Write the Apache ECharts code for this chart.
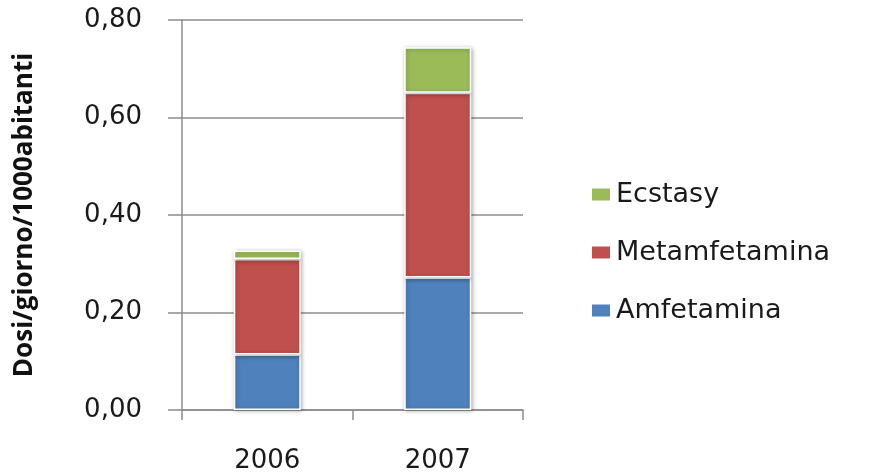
<!DOCTYPE html>
<html>
<head>
<meta charset="utf-8">
<script src="https://cdn.jsdelivr.net/npm/echarts@6/dist/echarts.min.js"></script>
<style>
  html, body { margin: 0; padding: 0; background: #fff; }
  #chart { width: 870px; height: 474px; }
</style>
</head>
<body>
<div id="chart"></div>
<script>
/* anni */
var years = ['2006', '2007'];

/* dosi/giorno/1000 abitanti per sostanza */
var amfetamina = [0.114, 0.272];
var metamfetamina = [0.196, 0.379];
var ecstasy = [0.017, 0.093];

/* tacche asse y */
var yTicks = [0, 0.2, 0.4, 0.6, 0.8];

var chart = echarts.init(document.getElementById('chart'));

function barStyle(color) {
    return {
        color: color,
        borderColor: '#fff',
        borderWidth: 1.5,
        shadowBlur: 4,
        shadowColor: 'rgba(0,0,0,0.3)',
        shadowOffsetX: 1,
        shadowOffsetY: 1
    };
}

var option = {
    backgroundColor: '#fff',
    animation: false,
    grid: {
        left: 182,
        right: 347,
        top: 20,
        bottom: 64
    },
    legend: {
        orient: 'vertical',
        left: 585,
        top: 176,
        icon: 'rect',
        itemWidth: 20,
        itemHeight: 14,
        itemGap: 31,
        data: ['Ecstasy', 'Metamfetamina', 'Amfetamina'],
        textStyle: {
            fontFamily: 'DejaVu Sans',
            fontSize: 27,
            color: '#1a1a1a'
        }
    },
    xAxis: {
        type: 'category',
        data: years,
        axisLine: { lineStyle: { color: '#8c8c8c', width: 1.5 } },
        axisTick: { show: true, length: 10, lineStyle: { color: '#8c8c8c', width: 1.5 } },
        axisLabel: {
            margin: 38,
            fontFamily: 'DejaVu Sans',
            fontSize: 26,
            color: '#1a1a1a'
        }
    },
    yAxis: {
        type: 'value',
        min: yTicks[0],
        max: yTicks[yTicks.length - 1],
        interval: 0.2,
        name: 'Dosi/giorno/1000abitanti',
        nameLocation: 'middle',
        nameGap: 144,
        nameRotate: 90,
        nameTextStyle: {
            fontFamily: 'Open Sans',
            fontWeight: 'bold',
            fontSize: 26,
            color: '#111'
        },
        axisLine: { show: true, lineStyle: { color: '#8c8c8c', width: 1.5 } },
        axisTick: { show: true, length: 14, lineStyle: { color: '#8c8c8c', width: 1.5 } },
        splitLine: { lineStyle: { color: '#8c8c8c', width: 1.5 } },
        axisLabel: {
            margin: 40,
            fontFamily: 'DejaVu Sans',
            fontSize: 26,
            color: '#1a1a1a',
            formatter: function (v) {
                return v.toFixed(2).replace('.', ',');
            }
        }
    },
    series: [
        {
            name: 'Amfetamina',
            type: 'bar',
            stack: 'tot',
            barWidth: 67,
            data: amfetamina,
            itemStyle: barStyle('#4F81BD')
        },
        {
            name: 'Metamfetamina',
            type: 'bar',
            stack: 'tot',
            barWidth: 67,
            data: metamfetamina,
            itemStyle: barStyle('#C0504D')
        },
        {
            name: 'Ecstasy',
            type: 'bar',
            stack: 'tot',
            barWidth: 67,
            data: ecstasy,
            itemStyle: barStyle('#9BBB59')
        }
    ]
};

chart.setOption(option, true);
</script>
</body>
</html>
